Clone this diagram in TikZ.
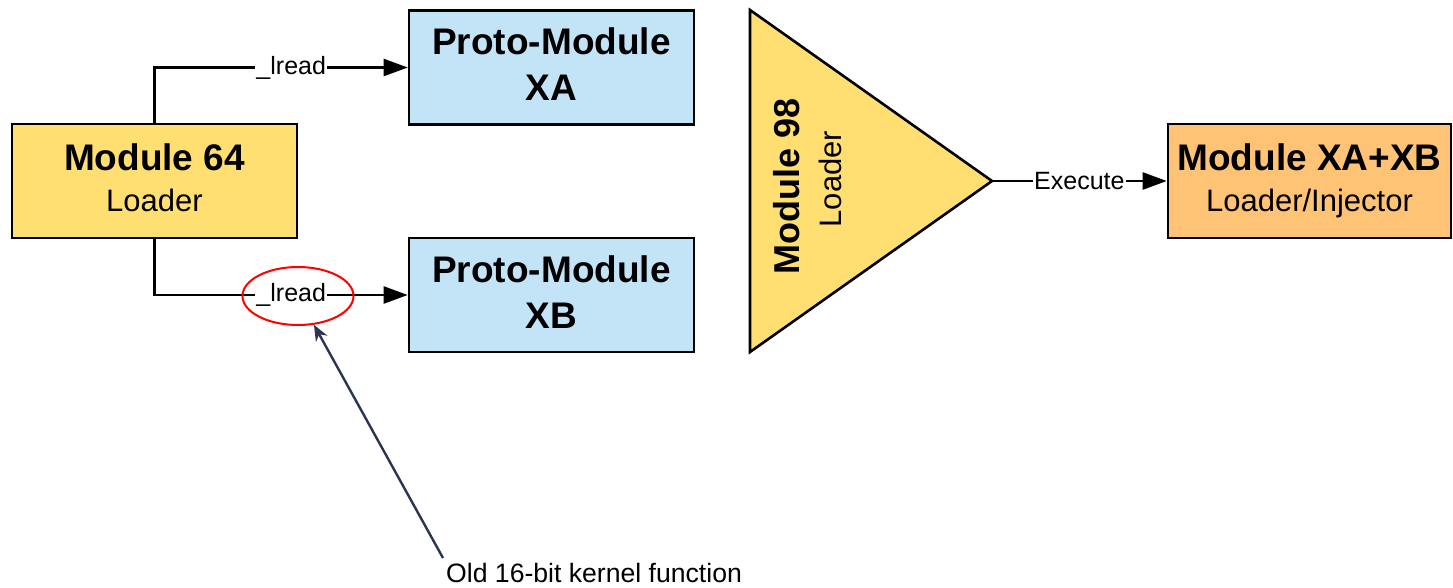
\documentclass[tikz,border=0pt]{standalone}
\usepackage{fontspec}
\setmainfont{Liberation Sans}
\usetikzlibrary{arrows.meta,shapes.geometric}

\definecolor{loaderyellow}{HTML}{FFDF72}
\definecolor{protoblue}{HTML}{C3E4F6}
\definecolor{injorange}{HTML}{FFC376}
\definecolor{notenavy}{HTML}{2B3553}

\newcommand{\modtitle}[1]{{\fontsize{37}{41}\selectfont\bfseries #1}}

\tikzset{
  modbox/.style={draw=black, line width=2.6pt, minimum width=285pt, minimum height=114pt,
                 inner sep=0pt, align=center},
  twoline/.style={font=\fontsize{31}{41}\selectfont},
  protofont/.style={font=\fontsize{37}{46}\selectfont\bfseries},
  conn/.style={draw=black, line width=2.4pt,
               -{Triangle[length=24pt,width=17pt]}},
  lbl/.style={fill=white, inner sep=1pt, font=\fontsize{25}{28}\selectfont},
  titlefont/.style={font=\fontsize{36}{44}\selectfont\bfseries},
  subfont/.style={font=\fontsize{31}{38}\selectfont},
}

\begin{document}
\begin{tikzpicture}[x=1pt,y=-1pt]
\useasboundingbox (0,0) rectangle (1453,587);

% first-stage loader
\node[modbox, twoline, fill=loaderyellow, text depth=6pt] (m64) at (154.5,181)
  {\modtitle{Module 64}\\Loader};

% proto-modules
\node[modbox, protofont, fill=protoblue, text depth=6pt] (pxa) at (551.5,67.5)
  {Proto-Module\\XA};
\node[modbox, protofont, fill=protoblue, text depth=6pt] (pxb) at (551.5,295)
  {Proto-Module\\XB};

% second-stage loader (triangle)
\coordinate (t1) at (750,10);
\coordinate (t2) at (750,352);
\coordinate (tip) at (992,181);
\draw[line width=2.6pt, fill=loaderyellow, line join=miter] (t1) -- (tip) -- (t2) -- cycle;
\node[titlefont, rotate=90] (m98) at (787,186) {Module 98};
\node[subfont, rotate=90] (m98sub) at (830,179) {Loader};

% final module
\node[modbox, twoline, fill=injorange, minimum width=283pt] (mxab) at (1309.5,181)
  {\modtitle{Module XA+XB}\\Loader/Injector};

% connectors
\draw[conn] (m64.north) |- node[lbl, pos=0.77] (l1) {\_lread} (pxa.west);
\draw[conn] (m64.south) |- node[lbl, pos=0.77] (l2) {\_lread} (pxb.west);
\draw[conn] (tip) -- node[lbl, pos=0.5] (l3) {Execute} (mxab.west);

% highlight and annotation
\node[draw=red, line width=2pt, ellipse, minimum width=111pt, minimum height=58pt,
      inner sep=0pt] (ell) at (298,296) {};
\node[anchor=base west, inner sep=0pt, font=\fontsize{26.6}{30}\selectfont] (note) at (446,582)
  {Old 16-bit kernel function};
\coordinate (notestart) at (443,558);
\draw[notenavy, line width=2.4pt, -{Stealth[length=16pt,width=13pt]}] (notestart) -- (ell);
\end{tikzpicture}
\end{document}
